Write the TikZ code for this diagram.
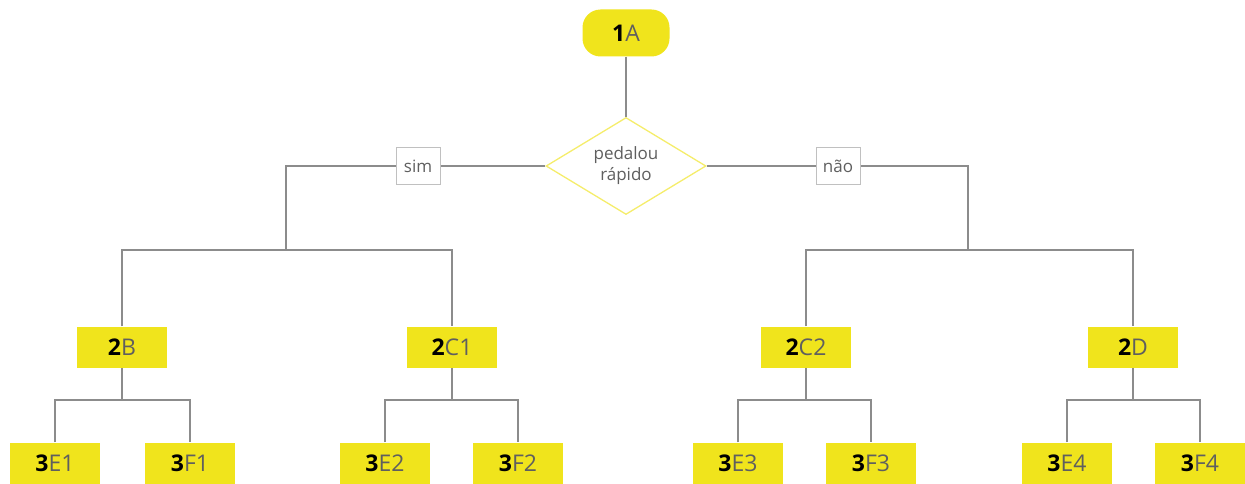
\documentclass[tikz,border=0pt]{standalone}
\usepackage{fontspec}
\setmainfont{Open Sans}
\usetikzlibrary{shapes.geometric,backgrounds}
\definecolor{boxyellow}{RGB}{240,228,28}
\definecolor{linegray}{RGB}{140,140,140}
\definecolor{textgray}{RGB}{95,95,95}
\tikzset{
  conn/.style={draw=linegray, line width=2pt},
  ybox/.style={fill=boxyellow, draw=none, minimum width=90pt, minimum height=41pt,
               inner sep=0pt, font=\fontsize{23}{25}\selectfont, text=textgray},
  startbox/.style={ybox, minimum width=87pt, minimum height=47pt, rounded corners=18pt},
  decision/.style={diamond, draw=boxyellow!65, line width=1.3pt, fill=white,
                   minimum width=160pt, minimum height=97pt, inner sep=0pt, aspect=1.65,
                   align=center, font=\fontsize{17}{21}\selectfont, text=textgray},
  answer/.style={draw=linegray!55, line width=0.8pt, fill=white, minimum width=44pt,
                 minimum height=37pt, inner sep=0pt, font=\fontsize{17}{19}\selectfont, text=textgray}
}
\newcommand{\lvl}[2]{{\bfseries\color{black}#1}#2}
\begin{document}
\begin{tikzpicture}[x=1pt,y=-1pt]
\useasboundingbox (0,0) rectangle (1245,484);

% start node and the question
\node[startbox] (A) at (626,33) {\lvl{1}{A}};
\node[decision] (Q) at (626,166) {pedalou\\rápido};

% second level
\node[ybox] (B)  at (122,347)  {\lvl{2}{B}};
\node[ybox] (C1) at (452,347)  {\lvl{2}{C1}};
\node[ybox] (C2) at (806,347)  {\lvl{2}{C2}};
\node[ybox] (D)  at (1133,347) {\lvl{2}{D}};

% third level
\node[ybox] (E1) at (55,463)   {\lvl{3}{E1}};
\node[ybox] (F1) at (190,463)  {\lvl{3}{F1}};
\node[ybox] (E2) at (385,463)  {\lvl{3}{E2}};
\node[ybox] (F2) at (518,463)  {\lvl{3}{F2}};
\node[ybox] (E3) at (738,463)  {\lvl{3}{E3}};
\node[ybox] (F3) at (871,463)  {\lvl{3}{F3}};
\node[ybox] (E4) at (1067,463) {\lvl{3}{E4}};
\node[ybox] (F4) at (1200,463) {\lvl{3}{F4}};

% answer labels on the branches
\node[answer] (yes) at (418,166) {sim};
\node[answer] (no)  at (838,166) {não};

% junction points
\coordinate (jL) at (286,250);
\coordinate (jR) at (968,250);
\coordinate (jB)  at (122,400);
\coordinate (jC1) at (452,400);
\coordinate (jC2) at (806,400);
\coordinate (jD)  at (1133,400);

% connectors, kept behind the nodes
\begin{pgfonlayer}{background}
\draw[conn] (A.south) -- (Q.north);
\draw[conn] (Q.west) -- (yes) -| (jL);
\draw[conn] (Q.east) -- (no) -| (jR);
\draw[conn] (B.north) |- (jL) -| (C1.north);
\draw[conn] (C2.north) |- (jR) -| (D.north);
\draw[conn] (B.south) -- (jB);
\draw[conn] (C1.south) -- (jC1);
\draw[conn] (C2.south) -- (jC2);
\draw[conn] (D.south) -- (jD);
\draw[conn] (E1.north) |- (jB) -| (F1.north);
\draw[conn] (E2.north) |- (jC1) -| (F2.north);
\draw[conn] (E3.north) |- (jC2) -| (F3.north);
\draw[conn] (E4.north) |- (jD) -| (F4.north);
\end{pgfonlayer}
\end{tikzpicture}
\end{document}
